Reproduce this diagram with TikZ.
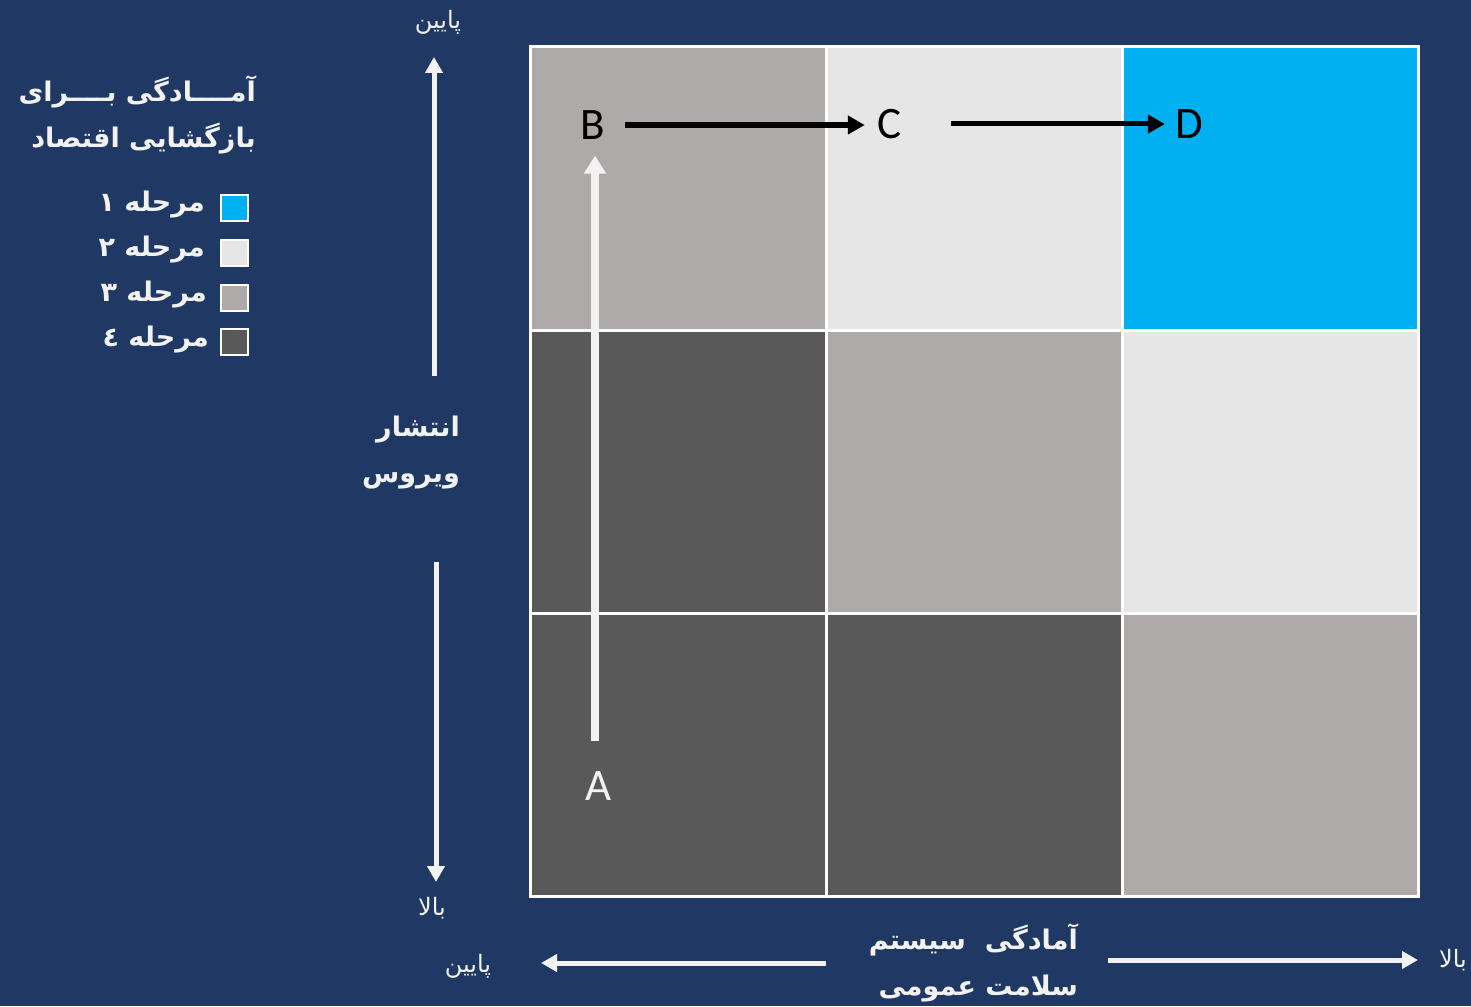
\documentclass[tikz,border=0pt]{standalone}
\usepackage{fontspec}
\setmainfont{Carlito}
\newfontfamily\arabicfont[Script=Arabic]{DejaVu Sans}
\TeXXeTstate=1
\usetikzlibrary{arrows.meta}
\definecolor{bg}{HTML}{1F3864}
\definecolor{stepone}{HTML}{00B0F0}
\definecolor{steptwo}{HTML}{E7E6E6}
\definecolor{stepthree}{HTML}{AEAAAA}
\definecolor{stepfour}{HTML}{595959}
\definecolor{txtw}{HTML}{F2F2F2}
\tikzset{
  cell/.style={draw=white, line width=3pt, minimum width=296pt, minimum height=283pt, inner sep=0pt},
  letter/.style={inner sep=0pt, font=\fontsize{45}{50}\selectfont},
  blackarrow/.style={line width=5pt, -{Triangle[length=17pt,width=18pt]}},
  whitearrow/.style={txtw, line width=7.5pt, -{Triangle[length=18pt,width=21pt]}},
  axisarrow/.style={txtw, line width=5pt, -{Triangle[length=16pt,width=17pt]}},
  artext/.style={text=txtw, inner sep=0pt, font=\arabicfont\fontsize{24}{30}\selectfont},
  arbold/.style={text=txtw, inner sep=0pt, align=right, font=\arabicfont\bfseries\fontsize{27}{46}\selectfont},
  legbox/.style={draw=white, line width=2pt, minimum width=27pt, minimum height=26pt, inner sep=0pt},
}
\begin{document}
\begin{tikzpicture}[x=1pt,y=-1pt]
\fill[bg] (0,0) rectangle (1471,1006);
\useasboundingbox (0,0) rectangle (1471,1006);
% grid cells
\node[cell, fill=stepthree] (c11) at (678,188.5) {};
\node[cell, fill=steptwo]   (c12) at (974,188.5) {};
\node[cell, fill=stepone]   (c13) at (1270,188.5) {};
\node[cell, fill=stepfour]  (c21) at (678,471.5) {};
\node[cell, fill=stepthree] (c22) at (974,471.5) {};
\node[cell, fill=steptwo]   (c23) at (1270,471.5) {};
\node[cell, fill=stepfour]  (c31) at (678,754.5) {};
\node[cell, fill=stepfour]  (c32) at (974,754.5) {};
\node[cell, fill=stepthree] (c33) at (1270,754.5) {};
% letters
\node[letter, text=txtw] (A) at (599,786) {A};
\node[letter] (B) at (593,125) {B};
\node[letter] (C) at (889,124) {C};
\node[letter] (D) at (1189,124) {D};
\draw[blackarrow, shorten <=20pt, shorten >=12pt] (B.east) -- (C.west |- B.east);
\draw[blackarrow, shorten <=50pt, shorten >=10pt] (C.east) -- (D.west);
\draw[whitearrow, shorten <=30pt, shorten >=16pt] ([xshift=-4pt]A.north) -- ([xshift=-4pt]A.north |- B.south);
% legend
\node[arbold, anchor=north east] (title) at (256,76) {\beginR آمــــادگی بــــرای\endR\\\beginR بازگشایی اقتصاد\endR};
\node[legbox, fill=stepone]   (l1) at (234,207.5) {};
\node[legbox, fill=steptwo]   (l2) at (234,253) {};
\node[legbox, fill=stepthree] (l3) at (234,297.5) {};
\node[legbox, fill=stepfour]  (l4) at (234,342) {};
\node[arbold, anchor=east] (t1) at (205,205) {\beginR مرحله ١\endR};
\node[arbold, anchor=east] (t2) at (205,250) {\beginR مرحله ٢\endR};
\node[arbold, anchor=east] (t3) at (207,295) {\beginR مرحله ٣\endR};
\node[arbold, anchor=east] (t4) at (209,340) {\beginR مرحله ٤\endR};
% vertical axis
\node[artext] (vlow) at (438,22) {\beginR پایین\endR};
\node[artext] (vhigh) at (432,908) {\beginR بالا\endR};
\node[arbold, anchor=east] (vtitle) at (460,453) {\beginR انتشار\endR\\\beginR ویروس\endR};
\coordinate (vup) at (434,376);
\coordinate (vupend) at (434,57);
\coordinate (vdown) at (436,562);
\coordinate (vdownend) at (436,882);
\draw[axisarrow] (vup) -- (vupend);
\draw[axisarrow] (vdown) -- (vdownend);
% horizontal axis
\node[artext] (hlow) at (468,966) {\beginR پایین\endR};
\node[artext] (hhigh) at (1453,960) {\beginR بالا\endR};
\node[arbold, anchor=east] (htitle) at (1078,963) {\beginR آمادگی \ سیستم\endR\\\beginR سلامت عمومی\endR};
\coordinate (hleft) at (826,963);
\coordinate (hleftend) at (541,963);
\coordinate (hright) at (1108,960);
\coordinate (hrightend) at (1418,960);
\draw[axisarrow] (hleft) -- (hleftend);
\draw[axisarrow] (hright) -- (hrightend);
\end{tikzpicture}
\end{document}
